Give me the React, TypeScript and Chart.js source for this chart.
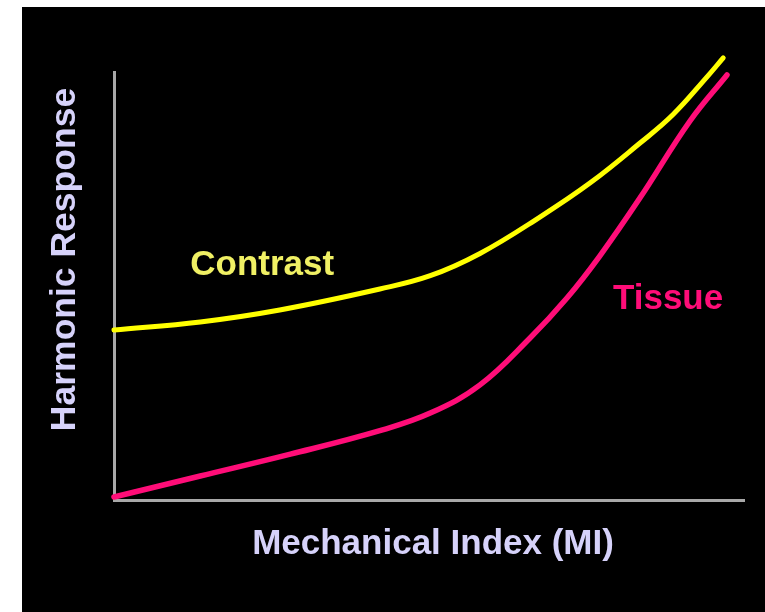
import React, { useEffect, useRef } from "react";
import { Chart, registerables } from "chart.js";

Chart.register(...registerables);

// Mechanical Index (x, 0..10 axis units) and harmonic response (y, 0..100 axis units)
const contrastMI = [0, 1.37, 2.63, 4.22, 5.02, 5.81, 6.76, 7.56, 8.35, 8.87, 9.41, 9.67];
const contrastResponse = [39.7, 41.6, 44.4, 49.3, 52.4, 57.6, 66.1, 74.1, 83.4, 90.0, 98.8, 103.3];

const tissueMI = [0, 1.37, 2.8, 4.22, 5.02, 5.81, 6.6, 7.19, 7.71, 8.35, 9.14, 9.73];
const tissueResponse = [0.7, 5.6, 10.7, 16.2, 20.3, 26.9, 37.8, 47.2, 57.0, 70.6, 88.5, 99.3];

const seriesNames = ["Contrast", "Tissue"];
// label anchor positions in data units (left edge, baseline)
const labelX = [1.21, 7.92];
const labelY = [52.6, 44.6];

const xAxisTitle = "Mechanical Index (MI)";
const yAxisTitle = "Harmonic Response";

const xRange = [0, 10];
const yRange = [0, 100];

const FONT = "'Liberation Sans', Arial, sans-serif";
const YELLOW = "#ffff00";
const PINK = "#ff0d78";
const LABEL_YELLOW = "#f0f064";
const AXIS_TEXT = "#d6d2fa";
const AXIS_LINE = "#a8a8a8";

const textPlugin = {
  id: "slideText",
  afterDraw(chart: any) {
    const { ctx, chartArea, scales } = chart;
    ctx.save();
    ctx.font = `bold 35px ${FONT}`;
    ctx.textBaseline = "alphabetic";
    const colors = [LABEL_YELLOW, PINK];
    seriesNames.forEach((name, i) => {
      ctx.fillStyle = colors[i];
      ctx.textAlign = "left";
      ctx.fillText(name, scales.x.getPixelForValue(labelX[i]), scales.y.getPixelForValue(labelY[i]));
    });
    ctx.fillStyle = AXIS_TEXT;
    ctx.textAlign = "center";
    ctx.fillText(xAxisTitle, (chartArea.left + chartArea.right) / 2 + 4, chartArea.bottom + 54);
    ctx.translate(chartArea.left - 39, chartArea.top + 187.5);
    ctx.rotate(-Math.PI / 2);
    ctx.font = `bold 35.5px ${FONT}`;
    ctx.fillText(yAxisTitle, 0, 0);
    ctx.restore();
  },
};

export default function App() {
  const ref = useRef<HTMLCanvasElement | null>(null);
  useEffect(() => {
    if (!ref.current) return;
    const chart = new Chart(ref.current, {
      type: "line",
      data: {
        datasets: [
          {
            label: seriesNames[0],
            data: contrastMI.map((x, i) => ({ x, y: contrastResponse[i] })),
            borderColor: YELLOW,
            borderWidth: 5,
            pointRadius: 0,
            tension: 0.4,
            borderCapStyle: "round",
            clip: false as any,
          },
          {
            label: seriesNames[1],
            data: tissueMI.map((x, i) => ({ x, y: tissueResponse[i] })),
            borderColor: PINK,
            borderWidth: 5.5,
            pointRadius: 0,
            tension: 0.4,
            borderCapStyle: "round",
            clip: false as any,
          },
        ],
      },
      options: {
        animation: false,
        responsive: true,
        maintainAspectRatio: false,
        layout: { padding: { top: 65, right: 21, left: 0, bottom: 0 } },
        plugins: { legend: { display: false }, tooltip: { enabled: false } },
        scales: {
          x: {
            type: "linear",
            min: xRange[0],
            max: xRange[1],
            grid: { display: false },
            ticks: { display: false },
            border: { display: true, color: AXIS_LINE, width: 3 },
            afterFit: (s: any) => {
              s.height = 112;
            },
          },
          y: {
            type: "linear",
            min: yRange[0],
            max: yRange[1],
            grid: { display: false },
            ticks: { display: false },
            border: { display: true, color: AXIS_LINE, width: 3 },
            afterFit: (s: any) => {
              s.width = 92;
            },
          },
        },
      },
      plugins: [textPlugin],
    });
    return () => chart.destroy();
  }, []);
  return (
    <div
      style={{
        position: "absolute",
        left: 22,
        top: 7,
        width: 743,
        height: 605,
        background: "#000",
      }}
    >
      <canvas ref={ref} />
    </div>
  );
}
